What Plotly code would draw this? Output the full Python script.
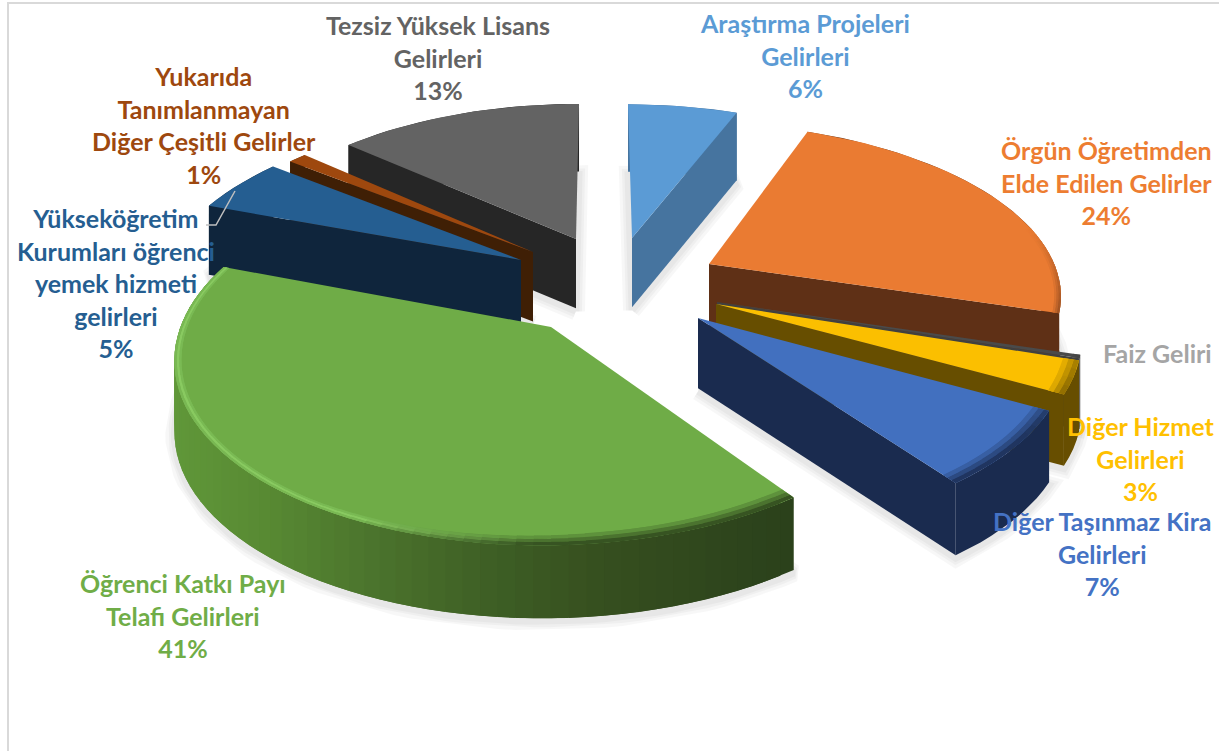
import math
import plotly.graph_objects as go

# ---- data (clockwise from 12 o'clock) ----
names = ["Araştırma Projeleri<br>Gelirleri", "Örgün Öğretimden<br>Elde Edilen Gelirler", "Faiz Geliri",
         "Diğer Hizmet<br>Gelirleri", "Diğer Taşınmaz Kira<br>Gelirleri", "Öğrenci Katkı Payı<br>Telafi Gelirleri",
         "Yükseköğretim<br>Kurumları öğrenci<br>yemek hizmeti<br>gelirleri",
         "Yukarıda<br>Tanımlanmayan<br>Diğer Çeşitli Gelirler", "Tezsiz Yüksek Lisans<br>Gelirleri"]
values = [6, 23.7, 0.3, 3, 7, 40.6, 5, 1, 13.4]
show_percent = [True, True, False, True, True, True, True, True, True]

# ---- style ----
top_colors = ["#5b9bd5", "#ea7b32", "#4a4a4a", "#fbbf00", "#4270bf", "#6fac47", "#255e91", "#9e480e", "#636363"]
wall_colors = ["#46749f", "#5f3016", "#404040", "#674e00", "#1a2b4f", "#2d441b", "#0f253c", "#3f1f05", "#262626"]
text_colors = ["#5b9bd5", "#ed7d31", "#a5a5a5", "#ffc000", "#4472c4", "#70ad47", "#255e91", "#9e480e", "#636363"]
apex_px = [(632, 238), (709, 264), (717, 302), (716, 304), (698, 318), (551, 327), (521, 260), (533, 252), (576, 239)]
radius_scale = [1, 1.01, 1.01, 1.01, 1.01, 1.025, 1.04, 1.02, 1.01]
label_px = [(805, 55), (1106, 182), (1157, 353), (1140, 458), (1102, 553), (183, 615), (116, 283), (204, 125), (438, 57)]
draw_order = [8, 0, 7, 6, 1, 2, 3, 4, 5]
FONT = "Lato"
FONT_SIZE = 25

# ---- perspective projection of the pie plane ----
CX, CY, RX, RY, PERSP, WALL = 600.0, 290.0, 350.0, 168.0, 0.15, 70.0


def proj(X, Y):
    s = 1 / (1 + PERSP * Y)
    return CX + RX * X * s, CY - RY * Y * s, s


def unproj(px, py):
    f = CY - py
    Y = f / (RY - PERSP * f)
    s = 1 / (1 + PERSP * Y)
    return (px - CX) / (RX * s), Y


def hex2rgb(c):
    return tuple(int(c[i:i + 2], 16) for i in (1, 3, 5))


def mix(a, b, t):
    ra, rb = hex2rgb(a), hex2rgb(b)
    return "#%02x%02x%02x" % tuple(round(x + (y - x) * t) for x, y in zip(ra, rb))


def rim(i, th, r=1.0):
    ox, oy = unproj(*apex_px[i])
    r = r * radius_scale[i]
    return proj(ox + r * math.sin(th), oy + r * math.cos(th))


def poly(fig, pts, color):
    fig.add_trace(go.Scatter(x=[p[0] for p in pts], y=[p[1] for p in pts], mode="lines", fill="toself",
                             fillcolor=color, line=dict(color=color, width=0),
                             hoverinfo="skip", showlegend=False))


def down(p):
    return (p[0], p[1] + WALL * p[2] ** 0.2)


GREEN_STOPS = [(175, "#609739"), (270, "#588a33"), (390, "#4a722c"), (505, "#3d5e24"), (610, "#364f1f"), (790, "#2b411b")]


def green_wall(x):
    for (x0, c0), (x1, c1) in zip(GREEN_STOPS, GREEN_STOPS[1:]):
        if x <= x1:
            return mix(c0, c1, max(0, (x - x0) / (x1 - x0)))
    return GREEN_STOPS[-1][1]


total = sum(values)
starts, ends = [], []
acc = 0.0
for v in values:
    starts.append(acc / total * 2 * math.pi)
    acc += v
    ends.append(acc / total * 2 * math.pi)

fig = go.Figure()

# frame
fig.add_trace(go.Scatter(x=[8, 8, 1219], y=[751, 3, 3], mode="lines", line=dict(color="#d9d9d9", width=2),
                         hoverinfo="skip", showlegend=False))


def arc(i, n, r=1.0):
    return [rim(i, starts[i] + (ends[i] - starts[i]) * k / n, r) for k in range(n + 1)]


# soft shadows
for i in draw_order:
    n = max(4, int((ends[i] - starts[i]) / 0.04))
    apex = proj(*unproj(*apex_px[i]))
    foot = [down(apex)] + [down(p) for p in arc(i, n)] + [down(apex)]
    foot = [(p[0], p[1] + 3) for p in foot]
    for w in (18, 12, 7):
        fig.add_trace(go.Scatter(x=[p[0] for p in foot], y=[p[1] for p in foot], mode="lines",
                                 line=dict(color="rgba(0,0,0,0.03)", width=w), hoverinfo="skip", showlegend=False))

# slices, back to front
for i in draw_order:
    th0, th1 = starts[i], ends[i]
    n = max(4, int((th1 - th0) / 0.04))
    apex = proj(*unproj(*apex_px[i]))
    pts = arc(i, n)
    wall = wall_colors[i]
    top = top_colors[i]
    # outer curved wall
    if i == 5:
        for k in range(n):
            a, b = pts[k], pts[min(k + 2, n)]
            poly(fig, [a, b, down(b), down(a)], green_wall(pts[k][0]))
    else:
        poly(fig, pts + [down(p) for p in reversed(pts)], wall)
    # flat cut faces that look towards the viewer
    if math.sin(th1) > 0:
        poly(fig, [apex, pts[-1], down(pts[-1]), down(apex)], wall)
    if math.sin(th0) < 0:
        poly(fig, [apex, pts[0], down(pts[0]), down(apex)], wall)
    # top face
    poly(fig, [apex] + pts, top)
    # bevel on the rim
    for k in range(n):
        a0 = th0 + (th1 - th0) * k / n
        a1 = th0 + (th1 - th0) * min(k + 2, n) / n
        deg = math.degrees(a0)
        if 75 < deg < 180:
            amt = min(1.0, (deg - 75) / 50)
            shades = [mix(top, wall, .25 * amt), mix(top, wall, .55 * amt), mix(top, wall, .85 * amt)]
        elif i == 5 and deg >= 180:
            amt = min(1.0, (deg - 180) / 25)
            dark = [mix(top, wall, .25), mix(top, wall, .55), mix(top, wall, .85)]
            light = [mix(top, "#86c960", .5), mix(top, "#8fd268", .8), mix(top, "#7dbd58", .7)]
            shades = [mix(d, l, amt) for d, l in zip(dark, light)]
        else:
            continue
        if i == 5:
            w = 0.014 - 0.008 * min(1.0, max(0.0, (deg - 170) / 40))
        elif i in (3, 4):
            w = 0.014
        else:
            w = 0.006
        rings = [(1 - 3 * w, 1 - 2 * w, shades[0]), (1 - 2 * w, 1 - w, shades[1]), (1 - w, 1.0, shades[2])]
        for r0, r1, c in rings:
            poly(fig, [rim(i, a0, r0), rim(i, a1, r0), rim(i, a1, r1), rim(i, a0, r1)], c)

# leader line of the 5% slice
fig.add_trace(go.Scatter(x=[235, 216, 206], y=[191, 225, 225], mode="lines", line=dict(color="#bfbfbf", width=1.5),
                         hoverinfo="skip", showlegend=False))

# data labels
for i, name in enumerate(names):
    txt = name + (f"<br>{round(values[i] / total * 100)}%" if show_percent[i] else "")
    fig.add_annotation(x=label_px[i][0], y=label_px[i][1], text=f"<b>{txt}</b>", showarrow=False, xanchor="center",
                       yanchor="middle", align="center", font=dict(family=FONT, size=FONT_SIZE, color=text_colors[i]))

fig.update_layout(width=1219, height=751, margin=dict(l=0, r=0, t=0, b=0), paper_bgcolor="white",
                  plot_bgcolor="white", showlegend=False,
                  xaxis=dict(range=[0, 1219], visible=False, fixedrange=True),
                  yaxis=dict(range=[751, 0], visible=False, fixedrange=True))
fig.write_html("out.html", config={"displayModeBar": False},
               post_script="document.body.style.margin='0';document.body.style.overflow='hidden';")
